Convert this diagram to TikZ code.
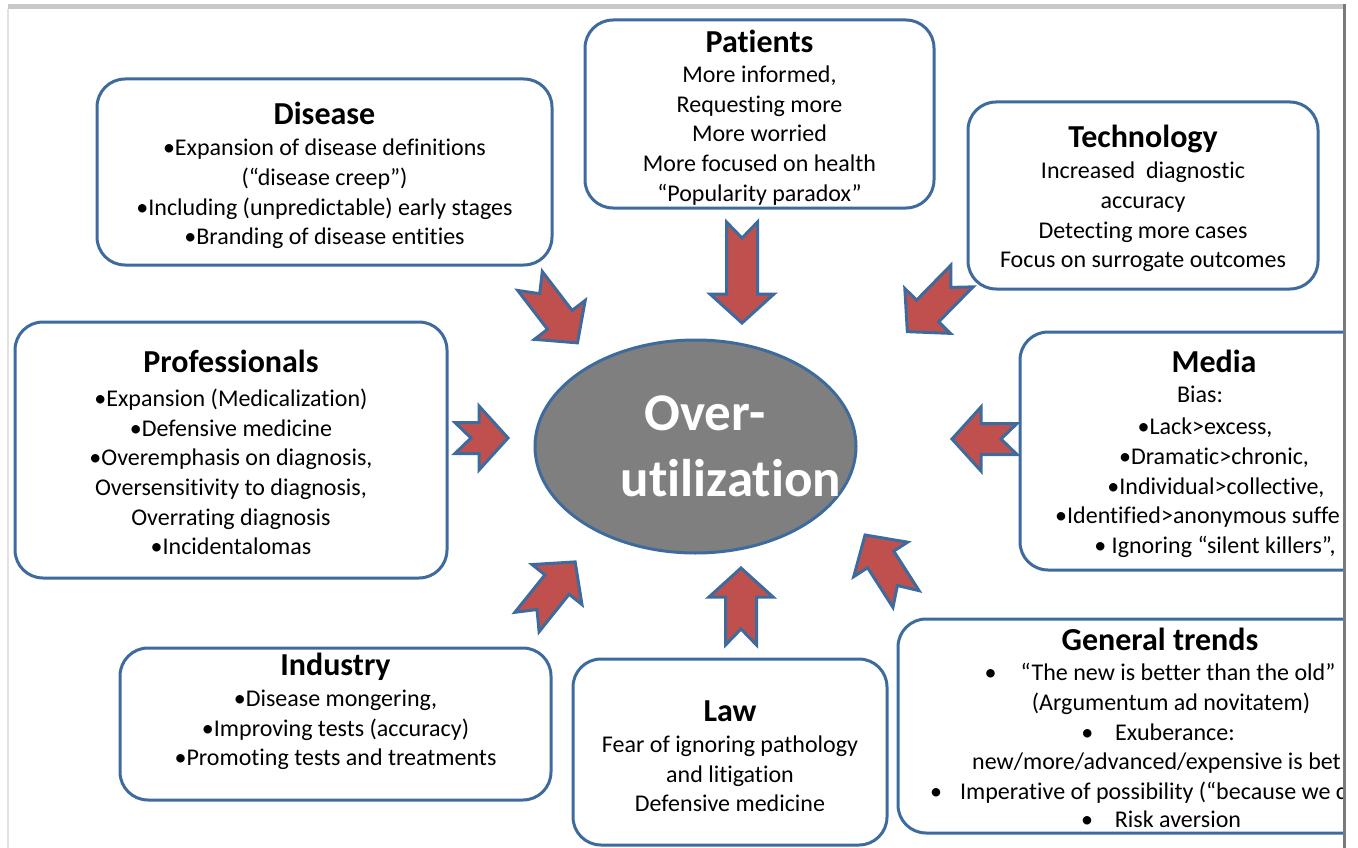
\documentclass[tikz,border=0pt]{standalone}
\usepackage{fontspec}
\setmainfont{Carlito}[Ligatures={NoCommon}]
\usetikzlibrary{shapes.geometric}
\definecolor{boxblue}{HTML}{3E6B9E}
\definecolor{arrowred}{HTML}{C0504D}
\definecolor{ellgray}{HTML}{7F7F7F}
\definecolor{bandgray}{HTML}{C8C8C8}
\definecolor{leftline}{HTML}{E2E2E2}
\definecolor{bargray}{HTML}{7A7A7A}
\tikzset{
  box/.style={draw=boxblue, line width=3pt, rounded corners=28pt, fill=white, inner sep=0pt},
  ttl/.style={font=\fontsize{32}{38}\selectfont\bfseries, inner sep=0pt, text height=22pt, text depth=7pt},
  body/.style={font=\fontsize{24}{29.7}\selectfont, align=center, inner sep=0pt},
  ln/.style={font=\fontsize{24}{29.7}\selectfont, inner sep=0pt, text height=17pt, text depth=5pt},
  bigtxt/.style={font=\fontsize{53}{64}\selectfont\bfseries, text=white, inner sep=0pt, text height=38pt, text depth=1pt},
  barrow/.style={fill=arrowred, draw=boxblue, line width=3pt, line join=miter},
  pics/notched/.style={code={
    \path[barrow] (0,15.5) -- (#1-29,15.5) -- (#1-29,32) -- (#1,0) -- (#1-29,-32) -- (#1-29,-15.5) -- (0,-15.5) -- (16,0) -- cycle;
  }}
}
\begin{document}
\begin{tikzpicture}[x=1pt,y=-1pt]
\useasboundingbox (0,0) rectangle (1358,848);
% screenshot frame
\fill[bandgray] (8,4) rectangle (1346,9.5);
\fill[leftline] (7,9.5) rectangle (9,848);

% ---- Disease
\node[box, minimum width=455pt, minimum height=186pt] (disease) at (324.5,172) {};
\node[ttl] (diseaseT) at (324.5,117) {Disease};
\node[body] (diseaseB) at (324.5,194) {•Expansion of disease definitions\\(“disease creep”)\\•Including (unpredictable) early stages\\•Branding of disease entities};

% ---- Patients
\node[box, minimum width=349pt, minimum height=188pt] (patients) at (759.5,114) {};
\node[ttl] (patientsT) at (759.5,45) {Patients};
\node[body] (patientsB) at (759.5,135.5) {More informed,\\Requesting more\\More worried\\More focused on health\\“Popularity paradox”};

% ---- Technology
\node[box, minimum width=350pt, minimum height=187pt] (tech) at (1143,195.5) {};
\node[ttl] (techT) at (1143,140) {Technology};
\node[body] (techB) at (1143,217) {Increased~ diagnostic\\accuracy\\Detecting more cases\\Focus on surrogate outcomes};

% ---- Professionals
\node[box, minimum width=432pt, minimum height=256pt] (prof) at (231,450) {};
\node[ttl] (profT) at (231,365) {Professionals};
\node[body] (profB) at (231,472) {•Expansion (Medicalization)\\•Defensive medicine\\•Overemphasis on diagnosis,\\Oversensitivity to diagnosis,\\Overrating diagnosis\\•Incidentalomas};

% ---- Industry
\node[box, minimum width=431pt, minimum height=152pt] (industry) at (335.5,724) {};
\node[ttl] (industryT) at (335.5,668) {Industry};
\node[body] (industryB) at (335.5,730) {•Disease mongering,\\•Improving tests (accuracy)\\•Promoting tests and treatments};

% ---- Law
\node[box, minimum width=314pt, minimum height=186pt] (law) at (730,752) {};
\node[ttl] (lawT) at (730,714) {Law};
\node[body] (lawB) at (730,774) {Fear of ignoring pathology\\and litigation\\Defensive medicine};

% ---- clipped boxes on the right
\begin{scope}
\clip (0,0) rectangle (1343,848);
\node[box, minimum width=384pt, minimum height=238pt] (media) at (1212,451) {};
\node[ttl] (mediaT) at (1214,365) {Media};
\node[ln] (m1) at (1200,396) {Bias:};
\node[ln] (m2) at (1205,428) {•Lack>excess,};
\node[ln] (m3) at (1214,458) {•Dramatic>chronic,};
\node[ln] (m4) at (1216,488) {•Individual>collective,};
\node[ln, anchor=west] (m5) at (1055,517) {•Identified>anonymous suffe};
\node[ln] (m6) at (1215,547) {• Ignoring “silent killers”,};

\node[box, minimum width=524pt, minimum height=214pt] (general) at (1160,726) {};
\node[ttl] (generalT) at (1160,643) {General trends};
\node[ln] (g1) at (1160,674) {•\hspace{24pt}“The new is better than the old”};
\node[ln] (g2) at (1171,704) {(Argumentum ad novitatem)};
\node[ln] (g3) at (1158,734) {•\hspace{22pt}Exuberance:};
\node[ln, anchor=west] (g4) at (972,763) {new/more/advanced/expensive is bet};
\node[ln, anchor=west] (g5) at (930,793) {•\hspace{18pt}Imperative of possibility (“because we c};
\node[ln] (g6) at (1161,821) {•\hspace{22pt}Risk aversion};
\end{scope}
\fill[bargray] (1343,4) rectangle (1346,848);

% ---- central ellipse
\node[ellipse, draw=boxblue, line width=3pt, fill=ellgray, minimum width=321pt, minimum height=213pt, inner sep=0pt] (over) at (695.5,446.5) {};
\node[bigtxt] (overA) at (705,412) {Over-};
\node[bigtxt] (overB) at (731,478) {utilization};

% ---- block arrows (tail points)
\coordinate (aDisease) at (530,281);
\coordinate (aPatients) at (742,222);
\coordinate (aTech) at (962,276);
\coordinate (aProf) at (455,438);
\coordinate (aMedia) at (1017,439);
\coordinate (aGeneral) at (906,599);
\coordinate (aLaw) at (741,645);
\coordinate (aIndustry) at (527,622);
\pic[rotate=-52.5] at (aDisease) {notched=78};
\pic[rotate=-90] at (aPatients) {notched=101};
\pic[rotate=-134.5] at (aTech) {notched=78};
\pic[rotate=0] at (aProf) {notched=53};
\pic[rotate=180] at (aMedia) {notched=65};
\pic[rotate=122.6] at (aGeneral) {notched=76};
\pic[rotate=90] at (aLaw) {notched=77};
\pic[rotate=51.3] at (aIndustry) {notched=77};
\end{tikzpicture}
\end{document}
